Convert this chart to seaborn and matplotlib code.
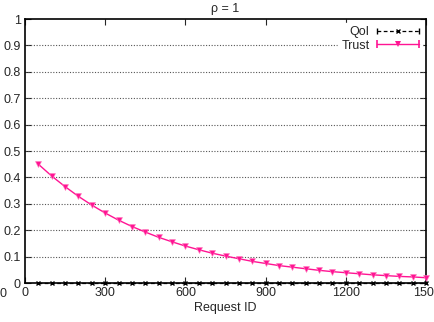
import matplotlib
matplotlib.use('Agg')
import matplotlib.pyplot as plt
import matplotlib.transforms as mtransforms
from matplotlib.lines import Line2D
from matplotlib.legend_handler import HandlerLine2D, HandlerTuple
import seaborn as sns
import pandas as pd

# values
request_id = [50, 100, 150, 200, 250, 300, 350, 400, 450, 500,
              550, 600, 650, 700, 750, 800, 850, 900, 950, 1000,
              1050, 1100, 1150, 1200, 1250, 1300, 1350, 1400, 1450, 1500]
trust = [0.450, 0.405, 0.365, 0.328, 0.295, 0.265, 0.238, 0.214, 0.193, 0.173,
         0.156, 0.140, 0.126, 0.113, 0.102, 0.092, 0.082, 0.074, 0.066, 0.060,
         0.054, 0.048, 0.043, 0.039, 0.035, 0.031, 0.028, 0.025, 0.023, 0.020]
qoi = [0.0] * len(request_id)

x_ticks = [0, 300, 600, 900, 1200, 1500]
x_labels = ['0', '300', '600', '900', '1200', '150']
y_ticks = [0, 0.1, 0.2, 0.3, 0.4, 0.5, 0.6, 0.7, 0.8, 0.9, 1]
y_labels = ['0', '0.1', '0.2', '0.3', '0.4', '0.5', '0.6', '0.7', '0.8', '0.9', '1']

df = pd.DataFrame({'id': request_id, 'QoI': qoi, 'Trust': trust})

sns.set_style('ticks')
plt.rcParams['font.family'] = ['Liberation Sans', 'DejaVu Sans']

fig = plt.figure(figsize=(4.34, 3.22), dpi=100)
ax = fig.add_axes([25 / 434, 39 / 322, 401 / 434, 264 / 322])

pink = '#ff1493'
qoi_style = dict(color='black', linestyle=(0, (3, 2)), linewidth=0.9)
trust_style = dict(color=pink, linewidth=1.0)

sns.lineplot(data=df, x='id', y='Trust', ax=ax, marker='v', markersize=4.8,
             markeredgewidth=0.4, markeredgecolor='#ff80c0', zorder=3,
             legend=False, **trust_style)
sns.lineplot(data=df, x='id', y='QoI', ax=ax, marker='x', markersize=3.5,
             markeredgewidth=1.0, markeredgecolor='black', zorder=4,
             legend=False, **qoi_style)
for ln in ax.lines:
    ln.set_clip_on(False)

ax.set_xlim(0, 1500)
ax.set_ylim(0, 1)
ax.set_xticks(x_ticks)
ax.set_xticklabels(x_labels)
ax.set_yticks(y_ticks)
ax.set_yticklabels(y_labels)
ax.tick_params(direction='in', top=True, right=True, length=4, width=0.8,
               labelsize=9, pad=3)
# last x label is cut at the image edge in the original
last = ax.get_xticklabels()[-1]
last.set_transform(last.get_transform() + mtransforms.ScaledTranslation(-3 / 100, 0, fig.dpi_scale_trans))
for s in ax.spines.values():
    s.set_linewidth(1.2)
    s.set_color('black')

for yv in y_ticks[1:-1]:
    ax.axhline(yv, color='#555555', linestyle=(0, (1, 1.5)), linewidth=0.8, zorder=1)

ax.set_xlabel('Request ID', fontsize=9, labelpad=2)
ax.set_ylabel('')
ax.set_title('ρ = 1', fontsize=9, pad=5)

# gnuplot-like legend keys: line + centre marker + end caps
qoi_line = Line2D([], [], marker='x', markersize=3.5, markeredgewidth=1.0, **qoi_style)
qoi_caps = Line2D([], [], color='black', marker='|', markersize=5, linestyle='none')
trust_line = Line2D([], [], marker='v', markersize=4.8, markeredgewidth=0, **trust_style)
trust_caps = Line2D([], [], color=pink, marker='|', markersize=6, markeredgewidth=1.2, linestyle='none')

leg = ax.legend([(qoi_line, qoi_caps), (trust_line, trust_caps)], ['QoI', 'Trust'],
                handler_map={tuple: HandlerTuple(ndivide=1, pad=0),
                             qoi_caps: HandlerLine2D(numpoints=2, marker_pad=0),
                             trust_caps: HandlerLine2D(numpoints=2, marker_pad=0)},
                loc='upper right', frameon=True, fontsize=9, markerfirst=False,
                numpoints=1, handlelength=3.3, handletextpad=0.6, borderaxespad=0.3,
                labelspacing=0.1, borderpad=0.3)
leg.get_frame().set_facecolor('white')
leg.get_frame().set_edgecolor('white')
leg.get_frame().set_alpha(1)

fig.text(3 / 434, 1 - 294 / 322, '0', fontsize=9, ha='center', va='center')

fig.savefig('out.png', dpi=100)
